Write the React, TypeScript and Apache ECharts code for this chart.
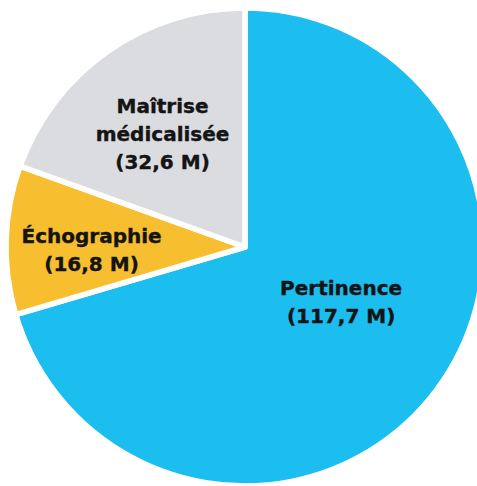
import React, { useEffect, useRef } from "react";
import * as echarts from "echarts";

const categories = ["Pertinence", "Échographie", "Maîtrise\nmédicalisée"];
const values = [117.7, 16.8, 32.6];
const valueLabels = ["117,7 M", "16,8 M", "32,6 M"];
const colors = ["#1CBDEF", "#F7BE30", "#DBDCE0"];
const labelShift = [
  [-2, -18],
  [-31, 7],
  [-12, -13],
];

export default function App() {
  const ref = useRef<HTMLDivElement>(null);
  useEffect(() => {
    if (!ref.current) return;
    const chart = echarts.init(ref.current, null, { renderer: "svg" });
    chart.setOption({
      animation: false,
      backgroundColor: "#ffffff",
      series: [
        {
          type: "pie",
          center: [245, 247],
          radius: [0, 239],
          startAngle: 90,
          clockwise: true,
          silent: true,
          itemStyle: { borderColor: "#ffffff", borderWidth: 5.5 },
          label: {
            show: true,
            position: "inside",
            color: "#141414",
            fontFamily: "DejaVu Sans",
            fontWeight: "bold",
            fontSize: 20,
            lineHeight: 28,
            align: "center",
            textBorderColor: "#141414",
            textBorderWidth: 0.4,
            formatter: (p: any) => `${p.name}\n(${valueLabels[p.dataIndex]})`,
          },
          labelLine: { show: false },
          labelLayout: (p: any) => ({
            dx: labelShift[p.dataIndex][0],
            dy: labelShift[p.dataIndex][1],
          }),
          data: categories.map((c, i) => ({
            name: c,
            value: values[i],
            itemStyle: { color: colors[i] },
          })),
        },
      ],
    });
    return () => chart.dispose();
  }, []);
  return (
    <div
      ref={ref}
      style={{ position: "fixed", left: 0, top: 0, width: 477, height: 486 }}
    />
  );
}
